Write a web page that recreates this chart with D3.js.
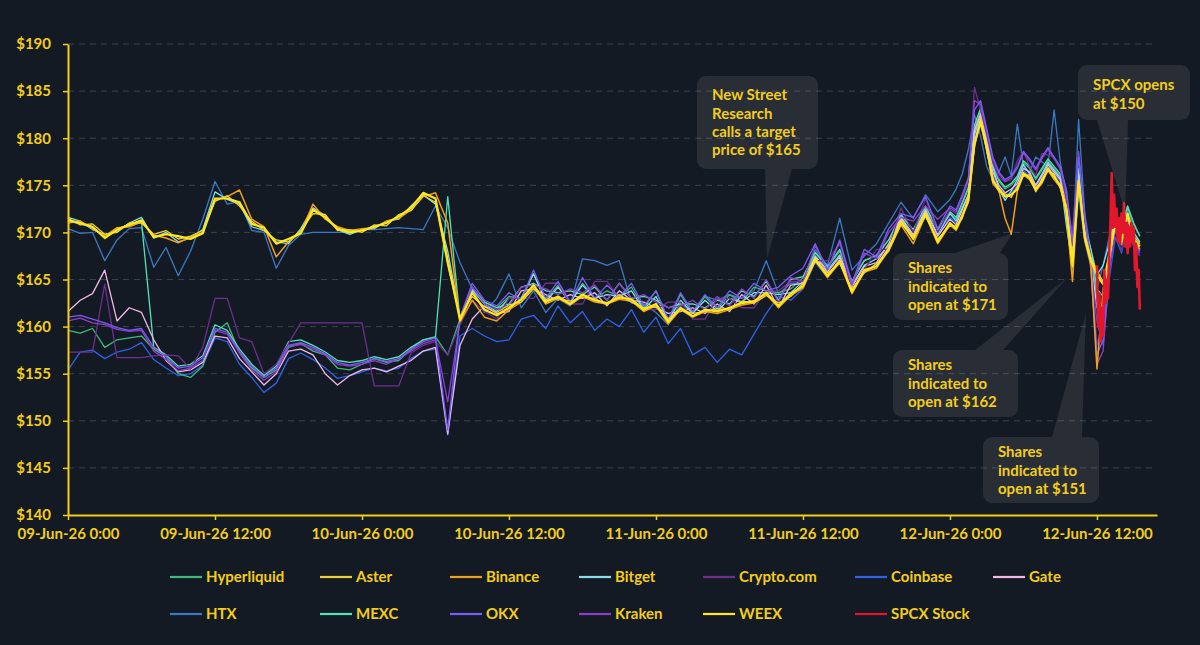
<!DOCTYPE html>
<html><head><meta charset="utf-8">
<script src="https://cdn.jsdelivr.net/npm/d3@7"></script>
<style>
html,body{margin:0;padding:0;background:#141a24;}
svg{display:block;font-family:Lato,"Noto Sans",sans-serif;}
</style></head><body>
<svg id="chart" width="1200" height="645"></svg>
<script>
// ---------- DATA ----------
// time axis: hours since 09-Jun-26 0:00 (hourly, then half-hourly from 12-Jun 0:00)
const hours = d3.range(0, 72).concat(d3.range(72, 88, 0.5));

const hyperliquid = [
 159.6,159.3,159.8,157.8,158.6,158.8,159.0,157.6,156.8,155.0,154.6,155.8,
 159.4,160.4,157.2,155.6,154.6,155.4,157.8,158.2,157.4,157.0,155.6,155.4,
 156.0,156.6,156.2,156.4,157.6,158.6,158.9,157.0,160.8,164.0,162.6,162.0,
 163.2,163.0,165.6,162.8,164.4,162.6,164.6,163.0,163.8,163.2,164.2,162.0,
 163.8,160.6,163.4,161.4,163.2,161.8,163.4,162.6,164.2,163.8,163.6,164.0,
 165.2,167.8,166.3,168.0,164.8,167.0,167.6,169.2,171.8,170.2,172.6,170.2,
 172.0,171.4,173.0,174.6,181.0,183.0,180.0,177.0,175.4,174.6,175.0,175.8,177.4,176.8,175.6,176.6,
 177.6,176.8,176.0,173.4,168.0,176.6,170.6,168.0,163.0,162.0,168.0,171.6,170.4,172.6,170.8,169.6];

const aster = [
 171.5,170.8,170.9,169.8,170.0,171.0,171.0,169.8,170.2,169.3,169.6,170.2,
 173.3,173.9,172.8,171.2,170.2,169.2,169.0,170.2,172.0,171.9,170.2,170.3,
 170.0,170.8,170.7,171.9,172.3,173.9,173.2,166.5,161.0,163.2,162.1,161.5,
 162.3,162.6,164.0,162.9,163.0,162.7,163.1,163.0,162.3,163.4,162.6,162.0,
 162.1,160.8,161.8,161.4,161.6,161.9,161.8,162.7,162.5,163.3,162.5,163.2,
 164.6,166.9,165.7,166.7,164.0,165.7,166.7,168.0,170.9,169.6,171.7,169.3,
 170.7,170.7,171.5,173.7,179.0,182.2,178.6,175.8,174.3,174.1,173.7,174.9,176.0,176.1,174.3,175.7,
 176.5,176.2,174.7,172.8,167.0,175.0,169.8,167.4,165.9,164.8,167.1,170.9,169.4,171.6,169.6,168.8];

const binance = [
 171.0,171.2,170.4,169.6,170.5,170.6,171.1,169.7,169.4,168.9,169.5,170.0,
 173.4,173.8,174.5,171.4,170.6,167.4,169.0,170.0,173.0,171.4,170.6,170.2,
 170.4,170.5,171.2,171.5,172.4,173.8,174.2,171.0,160.5,162.8,161.0,160.6,
 161.8,162.6,164.2,162.4,163.0,162.3,163.2,162.6,162.4,162.9,162.7,161.6,
 162.2,160.3,161.8,161.0,161.6,161.4,161.8,162.3,162.5,163.4,162.0,163.3,
 164.1,167.0,165.2,166.8,163.5,165.8,166.2,168.1,170.8,168.8,171.8,168.8,
 170.8,170.2,171.6,173.2,179.3,181.5,178.8,175.2,174.4,171.5,169.8,174.4,176.1,175.6,174.4,175.2,
 176.6,175.6,174.8,172.0,164.8,175.2,169.2,166.6,155.5,164.0,167.2,170.8,168.7,171.8,169.0,168.2];

const bitget = [
 171.6,171.2,170.3,169.8,170.1,171.0,171.6,169.4,170.0,169.0,169.4,170.3,
 174.3,173.5,173.0,170.6,170.2,169.0,168.8,170.4,172.6,171.8,170.3,169.8,
 170.3,170.4,171.2,171.4,172.8,174.0,173.0,168.0,161.0,163.9,162.4,161.6,
 163.0,163.0,165.6,162.6,164.2,162.6,164.4,163.0,163.4,163.2,163.8,161.8,
 163.2,160.6,162.8,161.4,162.8,161.6,163.0,162.6,163.6,163.6,163.4,163.6,
 164.8,167.5,166.0,167.6,164.4,166.5,167.2,168.6,171.5,169.6,172.3,169.8,
 172.0,171.2,172.6,174.0,180.4,182.4,179.4,177.0,174.6,173.4,174.4,175.6,177.2,176.2,175.0,176.2,
 177.4,176.6,175.8,170.8,166.3,176.5,170.2,168.2,165.5,166.5,168.8,171.8,170.2,171.8,170.0,169.0];

const cryptoCom = [
 157.3,157.3,157.3,164.5,156.7,156.7,156.7,156.9,157.0,156.9,155.5,157.8,
 163.0,163.0,158.8,158.4,155.0,156.0,158.2,160.4,160.4,160.4,160.4,160.4,
 160.4,153.7,153.7,153.7,157.2,158.0,158.4,157.0,160.2,162.8,161.6,160.8,
 163.0,163.0,163.0,164.6,164.6,162.4,162.4,164.8,164.8,163.0,163.0,161.8,
 161.8,162.6,162.6,160.8,160.8,163.0,163.0,162.0,162.0,163.8,163.8,164.8,
 164.8,167.0,167.0,168.8,163.8,166.0,168.2,168.2,172.6,170.0,173.6,170.0,
 172.4,172.0,173.6,175.4,185.4,183.0,180.4,177.4,175.8,175.4,175.6,177.6,178.6,177.0,176.0,178.4,
 178.2,178.0,176.6,173.4,170.0,178.4,171.0,167.6,158.0,160.5,166.0,170.4,168.0,171.6,169.0,167.5];

const coinbase = [
 155.4,157.3,157.5,156.6,157.3,157.6,158.3,156.5,155.6,154.8,155.0,155.9,
 158.8,158.4,156.0,154.6,153.0,154.0,156.6,157.2,156.5,155.6,154.5,154.8,
 155.2,155.6,155.3,155.6,156.6,157.4,157.6,148.5,159.0,159.8,159.0,158.4,
 158.6,160.8,161.2,159.8,162.2,160.4,161.6,159.6,160.8,160.0,161.8,159.4,
 161.0,158.2,159.8,157.0,157.8,156.2,157.6,157.0,159.2,161.4,163.2,162.8,
 164.0,166.8,165.2,167.2,163.8,165.8,166.6,168.4,171.4,169.6,172.2,169.6,
 171.6,171.0,172.4,174.0,180.2,182.0,179.4,176.0,174.8,174.0,174.2,175.0,176.6,176.0,174.8,175.8,
 177.0,176.2,175.4,172.0,166.0,174.0,169.0,166.4,160.5,158.0,165.0,169.5,167.8,170.8,168.4,167.5];

const gate = [
 161.6,162.8,163.5,166.0,160.6,162.0,161.5,158.6,156.4,155.2,155.4,156.2,
 159.0,158.8,156.6,155.2,153.8,155.0,157.4,157.6,157.0,155.0,153.8,154.8,
 155.4,155.6,155.2,155.8,156.4,157.4,157.8,148.6,158.0,160.8,162.2,161.4,
 161.6,163.8,164.0,163.4,162.8,163.4,163.0,163.6,162.2,163.8,162.8,162.6,
 162.0,161.4,161.6,162.0,161.4,162.4,161.6,163.4,162.4,164.4,162.0,164.4,
 164.6,167.4,165.8,167.4,164.2,166.4,166.8,168.8,171.6,169.8,172.4,169.6,
 171.4,170.8,172.4,174.0,180.8,182.6,179.6,176.4,175.0,174.2,174.6,175.2,176.8,176.4,175.0,176.0,
 177.2,176.4,175.6,173.2,167.4,175.4,170.0,167.2,162.0,161.6,167.6,171.0,169.4,171.4,169.2,168.2];

const htx = [
 170.4,169.9,170.0,167.0,169.2,170.4,170.5,166.3,168.4,165.4,168.0,171.4,
 175.4,173.0,173.3,170.2,170.0,166.2,168.6,169.8,170.0,170.0,170.0,170.0,
 170.3,170.3,170.4,170.5,170.4,170.3,172.8,170.5,166.8,164.0,161.5,163.0,
 165.6,162.0,163.8,161.5,163.0,162.2,167.2,167.0,166.5,167.0,162.5,162.4,
 161.5,160.2,162.5,161.4,163.2,162.8,163.4,163.0,163.8,167.0,163.5,164.6,
 164.6,168.2,166.5,171.5,166.0,167.5,168.8,171.0,173.2,171.5,174.0,172.2,
 173.5,174.6,176.2,178.8,182.5,180.2,177.0,175.6,176.4,178.0,176.0,181.5,177.0,176.4,178.0,177.5,
 177.0,183.0,177.5,174.0,168.0,182.0,172.0,168.0,164.0,166.5,169.5,172.0,170.5,172.8,170.0,168.8];

const mexc = [
 171.2,170.9,170.5,169.6,170.2,170.9,171.1,157.8,157.0,155.8,156.0,156.9,
 160.2,159.6,157.6,156.0,154.8,155.8,158.4,158.6,158.0,157.3,156.4,156.2,
 156.4,156.8,156.5,156.8,157.8,158.6,158.9,173.8,160.8,164.2,162.6,162.0,
 162.4,164.2,164.6,163.8,163.6,163.8,163.4,164.2,162.8,164.6,163.0,163.2,
 162.8,162.0,162.4,162.4,162.0,162.8,162.4,163.8,163.2,164.8,162.8,165.0,
 165.3,167.9,166.4,168.2,164.8,167.0,167.5,169.2,171.9,170.3,172.8,170.3,
 172.2,171.6,173.2,174.8,181.4,183.2,180.2,177.2,175.6,174.8,175.2,176.0,177.6,177.0,175.8,176.8,
 177.8,177.0,176.2,173.6,168.4,176.8,170.8,168.2,164.0,163.2,168.2,171.8,170.6,172.8,171.0,169.6];

const okx = [
 161.0,161.2,160.8,160.4,159.9,159.6,159.8,157.8,156.8,155.6,155.8,156.7,
 159.8,159.4,157.4,155.8,154.6,155.6,158.0,158.3,157.8,157.1,156.2,155.9,
 156.2,156.6,156.3,156.6,157.6,158.4,158.8,149.0,161.0,164.6,162.8,162.2,
 163.6,162.8,166.0,163.0,164.8,162.6,165.2,163.0,164.4,163.2,164.6,162.2,
 163.8,160.8,163.6,161.6,163.4,162.0,163.8,163.0,164.6,163.8,164.2,165.4,
 166.2,168.8,166.0,169.2,164.6,168.2,167.4,170.4,172.0,171.6,173.8,170.4,
 172.8,172.4,174.0,175.8,183.0,184.0,181.0,178.0,176.4,175.6,176.0,177.0,178.6,177.8,176.8,178.0,
 179.0,178.0,177.0,174.6,169.0,178.0,172.0,166.0,157.0,158.6,166.4,170.6,169.4,172.2,169.4,168.0];

const kraken = [
 160.6,160.9,160.4,160.2,159.7,159.5,159.6,157.4,156.5,155.3,155.6,156.4,
 159.6,159.2,157.2,155.4,154.3,155.2,157.9,158.1,157.6,157.0,156.0,155.8,
 156.0,156.4,156.0,156.6,157.4,158.2,158.6,152.0,160.6,164.2,162.4,161.8,
 162.2,164.2,164.4,164.0,163.4,164.0,163.6,164.4,162.8,164.6,163.0,163.4,
 162.6,162.0,162.2,162.8,161.8,163.2,162.2,164.0,163.0,165.0,162.6,165.2,
 164.8,168.6,166.0,169.0,164.4,167.8,167.2,170.0,171.6,171.2,172.8,171.4,
 172.6,172.2,173.8,175.6,184.0,183.6,180.8,177.8,176.2,175.4,175.8,176.8,178.4,177.6,176.6,177.8,
 178.8,177.8,176.8,174.4,168.6,178.6,171.6,166.4,156.0,157.4,166.0,170.2,169.0,171.8,169.2,167.8];

const weex = [
 171.3,171.0,170.6,169.4,170.3,170.8,171.3,169.5,169.8,169.6,169.3,169.9,
 173.6,173.6,173.2,170.9,170.5,168.8,169.3,169.9,172.4,171.6,170.4,170.0,
 170.2,170.6,171.0,171.7,172.6,174.2,173.6,167.0,160.7,163.6,161.8,161.2,
 162.0,162.9,164.4,162.6,163.2,162.4,163.4,162.8,162.5,163.1,162.9,161.8,
 162.4,160.5,162.0,161.1,161.8,161.6,162.0,162.5,162.7,163.6,162.2,163.5,
 164.3,167.2,165.4,167.0,163.7,166.0,166.4,168.3,171.2,169.3,172.0,169.0,
 171.0,170.4,171.8,173.4,179.5,181.8,179.0,175.5,174.6,173.8,174.0,174.6,176.3,175.8,174.6,175.4,
 176.8,175.9,175.0,172.4,166.5,175.5,169.5,167.0,165.5,164.5,167.5,171.2,169.0,172.0,169.3,168.5];

// SPCX stock trades only from 12-Jun midday
const spcxHours = [84.0,84.1,84.2,84.3,84.4,84.5,84.6,84.7,84.8,84.9,85.0,85.1,85.2,85.3,85.4,85.5,85.6,85.7,
 85.8,85.9,86.0,86.1,86.2,86.3,86.4,86.5,86.6,86.7,86.8,86.9,87.0,87.1,87.2,87.3,87.4,87.5];
const spcxStock = [166.5,160.0,163.5,158.4,162.0,159.0,166.0,162.5,165.0,163.0,168.0,171.0,176.3,170.5,174.0,170.6,172.5,169.0,
 171.5,168.9,172.0,170.0,173.1,168.5,171.0,167.8,170.6,168.5,171.0,169.0,170.5,166.0,168.8,164.2,166.0,161.8];

const yTicks = [140,145,150,155,160,165,170,175,180,185,190];

const legendRow1 = ["Hyperliquid","Aster","Binance","Bitget","Crypto.com","Coinbase","Gate"];
const legendRow2 = ["HTX","MEXC","OKX","Kraken","WEEX","SPCX Stock"];

const annotationTexts = [
  ["New Street","Research","calls a target","price of $165"],
  ["SPCX opens","at $150"],
  ["Shares","indicated to","open at $171"],
  ["Shares","indicated to","open at $162"],
  ["Shares","indicated to","open at $151"]
];
// pointer tip in data coordinates: [hours, price]
const annotationTips = [[57.06,167.2],[86.3,172.2],[77.1,169.9],[81.6,165.2],[83.1,161.4]];

// ---------- STYLE / LAYOUT ----------
const series = [
  {name:"HTX", hours:hours, values:htx, color:"#3b79c4", w:1.3},
  {name:"Coinbase", hours:hours, values:coinbase, color:"#2f62e8", w:1.3},
  {name:"Hyperliquid", hours:hours, values:hyperliquid, color:"#3dba7c", w:1.3},
  {name:"MEXC", hours:hours, values:mexc, color:"#52e3b5", w:1.3},
  {name:"Bitget", hours:hours, values:bitget, color:"#86e0ec", w:1.3},
  {name:"Gate", hours:hours, values:gate, color:"#f2b8e6", w:1.3},
  {name:"Crypto.com", hours:hours, values:cryptoCom, color:"#6e2e8e", w:1.3},
  {name:"Kraken", hours:hours, values:kraken, color:"#8e3fc8", w:1.3},
  {name:"OKX", hours:hours, values:okx, color:"#7a5cf6", w:1.3},
  {name:"Binance", hours:hours, values:binance, color:"#f0a01e", w:1.5},
  {name:"Aster", hours:hours, values:aster, color:"#e9d23a", w:1.3},
  {name:"WEEX", hours:hours, values:weex, color:"#ffe81a", w:2.2},
  {name:"SPCX Stock", hours:spcxHours, values:spcxStock, color:"#e3162b", w:2.6}
];
series.forEach(s => { if (s.values.length !== s.hours.length) throw new Error(s.name + " length " + s.values.length + " vs " + s.hours.length); });
const colorOf = Object.fromEntries(series.map(s => [s.name, s.color]));

const YELLOW = "#f3cd1b";
const t0 = Date.UTC(2026, 5, 9, 0, 0);
const toDate = h => new Date(t0 + h * 3600e3);

const svg = d3.select("#chart");
svg.append("rect").attr("width",1200).attr("height",645).attr("fill","#141a24");

const x = d3.scaleUtc().domain([toDate(0), toDate(88.9)]).range([68, 1157]);
const y = d3.scaleLinear().domain([140, 190]).range([515, 44]);

// grid
svg.append("g").selectAll("line").data(yTicks.filter(d => d > 140)).join("line")
  .attr("x1", 68).attr("x2", 1157).attr("y1", d => y(d)).attr("y2", d => y(d))
  .attr("stroke", "#3a4250").attr("stroke-width", 1).attr("stroke-dasharray", "6,5");

// lines
const line = d3.line().x(d => x(toDate(d[0]))).y(d => y(d[1])).defined(d => d[1] != null);
const gLines = svg.append("g");
series.forEach(s => {
  gLines.append("path")
    .datum(s.hours.map((h, i) => [h, s.values[i]]))
    .attr("fill", "none").attr("stroke", s.color).attr("stroke-width", s.w)
    .attr("stroke-linejoin", "round").attr("d", line);
});

// axes
const yAxis = svg.append("g").attr("transform", "translate(68,0)")
  .call(d3.axisLeft(y).tickValues(yTicks).tickFormat(d => "$" + d).tickSize(5).tickSizeOuter(0).tickPadding(12));
const xAxis = svg.append("g").attr("transform", "translate(0,515)")
  .call(d3.axisBottom(x).ticks(d3.utcHour.every(12)).tickFormat(d3.utcFormat("%d-%b-%y %-H:%M")).tickSize(5).tickSizeOuter(0).tickPadding(8));
[yAxis, xAxis].forEach(g => {
  g.select(".domain").attr("stroke", YELLOW).attr("stroke-width", 2);
  g.selectAll(".tick line").attr("stroke", YELLOW).attr("stroke-width", 1.5);
  g.selectAll("text").attr("fill", YELLOW).attr("font-size", 15).attr("font-weight", 700)
    .attr("font-family", "Lato, 'Noto Sans', sans-serif");
});

// annotations
const boxes = [[697,76,121,93,95],[1078,65,112,55,85],[893,253,115,67,268],[893,350,125,67,365],[983,437,116,66,452]];
const bases = [[[765,169],[792,169]],[[1097,120],[1128,120]],[[955,253],[1000,253]],[[975,350],[1003,350]],[[1052,437],[1082,437]]];
const gAnn = svg.append("g");
annotationTexts.forEach((lines, i) => {
  const [bx, by, bw, bh, ty] = boxes[i];
  const tip = [x(toDate(annotationTips[i][0])), y(annotationTips[i][1])];
  gAnn.append("path").attr("d", d3.line()([bases[i][0], tip, bases[i][1]]) + "Z")
    .attr("fill", "rgba(255,255,255,0.085)");
  gAnn.append("rect").attr("x", bx).attr("y", by).attr("width", bw).attr("height", bh)
    .attr("rx", 9).attr("fill", "rgba(255,255,255,0.085)");
  gAnn.append("text").attr("font-size", 15).attr("font-weight", 700).attr("fill", YELLOW)
    .selectAll("tspan").data(lines).join("tspan")
    .attr("x", bx + 15).attr("y", (d, j) => ty + j * 18.3).attr("dy", "0.35em").text(d => d);
});

// legend
const legendCols = [170, 320, 450, 579, 703, 855, 993];
const gLeg = svg.append("g");
[[legendRow1, 577], [legendRow2, 614]].forEach(([row, ly]) => {
  row.forEach((name, i) => {
    const lx = legendCols[i];
    gLeg.append("line").attr("x1", lx).attr("x2", lx + 32).attr("y1", ly).attr("y2", ly)
      .attr("stroke", colorOf[name]).attr("stroke-width", 2.2);
    gLeg.append("text").attr("x", lx + 36).attr("y", ly).attr("dy", "0.35em")
      .attr("font-size", 15).attr("font-weight", 700).attr("fill", YELLOW).text(name);
  });
});
</script>
</body></html>
